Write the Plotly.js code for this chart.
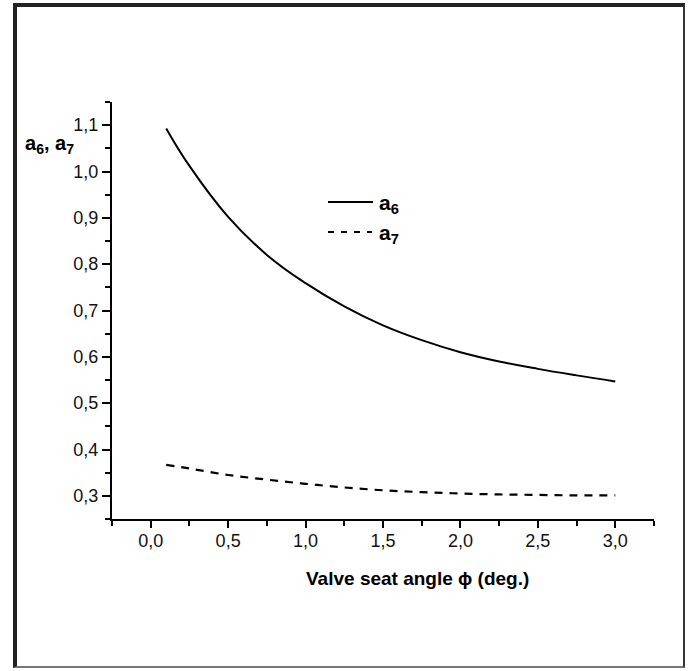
<!DOCTYPE html>
<html>
<head>
<meta charset="utf-8">
<script src="https://cdn.plot.ly/plotly-3.0.1.min.js"></script>
<style>
  html, body { margin: 0; padding: 0; background: #fff; }
  #wrap { position: relative; width: 688px; height: 671px; }
  #chart { position: absolute; left: 0; top: 0; width: 688px; height: 671px; }
  #frame { position: absolute; left: 13px; top: 3px; width: 666px; height: 659px;
           border-left: 4px solid #222; border-top: 4px solid #222;
           border-right: 2px solid #333; border-bottom: 2px solid #777;
           pointer-events: none; }
</style>
</head>
<body>
<div id="wrap">
  <div id="chart"></div>
  <div id="frame"></div>
</div>
<script>
// Data
const angle = [0.1, 0.25, 0.5, 0.75, 1.0, 1.25, 1.5, 1.75, 2.0, 2.25, 2.5, 2.75, 3.0];
const a6 = [1.093, 1.012, 0.902, 0.820, 0.759, 0.709, 0.668, 0.636, 0.610, 0.590, 0.574, 0.560, 0.547];
const a7 = [0.367, 0.359, 0.345, 0.335, 0.326, 0.318, 0.312, 0.308, 0.305, 0.303, 0.302, 0.301, 0.301];
const seriesNames = ['a<sub>6</sub>', 'a<sub>7</sub>'];
const xTitle = 'Valve seat angle \u03d5 (deg.)';
const yTitle = 'a<sub>6</sub>, a<sub>7</sub>';

// Layout geometry (pixels)
const W = 688, H = 671;
const L = 112, R = 654, T = 102, B = 519;
const px = x => (x - L) / (R - L);
const py = y => (B - y) / (B - T);

const font = 'Liberation Sans, Arial, sans-serif';

const traces = [
  { x: angle, y: a6, type: 'scatter', mode: 'lines', name: seriesNames[0],
    line: { color: '#000', width: 2, shape: 'spline', smoothing: 1.2 }, showlegend: false },
  { x: angle, y: a7, type: 'scatter', mode: 'lines', name: seriesNames[1],
    line: { color: '#000', width: 2.2, shape: 'spline', dash: '8px,7px' }, showlegend: false }
];

const axisCommon = {
  showgrid: false, zeroline: false, showline: true, linecolor: '#000', linewidth: 2,
  ticks: 'outside', tickcolor: '#000', tickwidth: 2, ticklen: 8,
  tickfont: { family: font, size: 18, color: '#111' },
  tickformat: '.1f', mirror: false
};

const layout = {
  width: W, height: H,
  margin: { l: L, r: W - R, t: T, b: H - B, pad: 0 },
  paper_bgcolor: 'rgba(0,0,0,0)', plot_bgcolor: 'rgba(0,0,0,0)',
  separators: ',.',
  showlegend: false,
  xaxis: Object.assign({}, axisCommon, {
    range: [-0.25, 3.25], tick0: 0, dtick: 0.5, ticklen: 7, ticklabelstandoff: -3,
    minor: { dtick: 0.25, tick0: 0, ticks: 'outside', ticklen: 5, tickwidth: 2, tickcolor: '#000' }
  }),
  yaxis: Object.assign({}, axisCommon, {
    range: [0.25, 1.15], tick0: 0.3, dtick: 0.1, ticklabelstandoff: 0,
    minor: { dtick: 0.05, tick0: 0.25, ticks: 'outside', ticklen: 5, tickwidth: 2, tickcolor: '#000' }
  }),
  shapes: [
    { type: 'line', xref: 'paper', yref: 'paper', x0: px(328), x1: px(373), y0: py(202), y1: py(202),
      line: { color: '#000', width: 2 } },
    { type: 'line', xref: 'paper', yref: 'paper', x0: px(328), x1: px(372), y0: py(232), y1: py(232),
      line: { color: '#000', width: 2, dash: '6px,7px' } }
  ],
  annotations: [
    { xref: 'paper', yref: 'paper', x: px(377), y: py(204), xanchor: 'left', yanchor: 'middle',
      text: '<b>' + seriesNames[0] + '</b>', showarrow: false,
      font: { family: font, size: 21, color: '#000' } },
    { xref: 'paper', yref: 'paper', x: px(377), y: py(234), xanchor: 'left', yanchor: 'middle',
      text: '<b>' + seriesNames[1] + '</b>', showarrow: false,
      font: { family: font, size: 21, color: '#000' } },
    { xref: 'paper', yref: 'paper', x: px(23), y: py(144), xanchor: 'left', yanchor: 'middle',
      text: '<b>' + yTitle + '</b>', showarrow: false,
      font: { family: font, size: 20, color: '#000' } },
    { xref: 'paper', yref: 'paper', x: px(417), y: py(578), xanchor: 'center', yanchor: 'middle',
      text: '<b>' + xTitle + '</b>', showarrow: false,
      font: { family: font, size: 19, color: '#000' } }
  ]
};

Plotly.newPlot('chart', traces, layout, { displayModeBar: false, staticPlot: true });
</script>
</body>
</html>
